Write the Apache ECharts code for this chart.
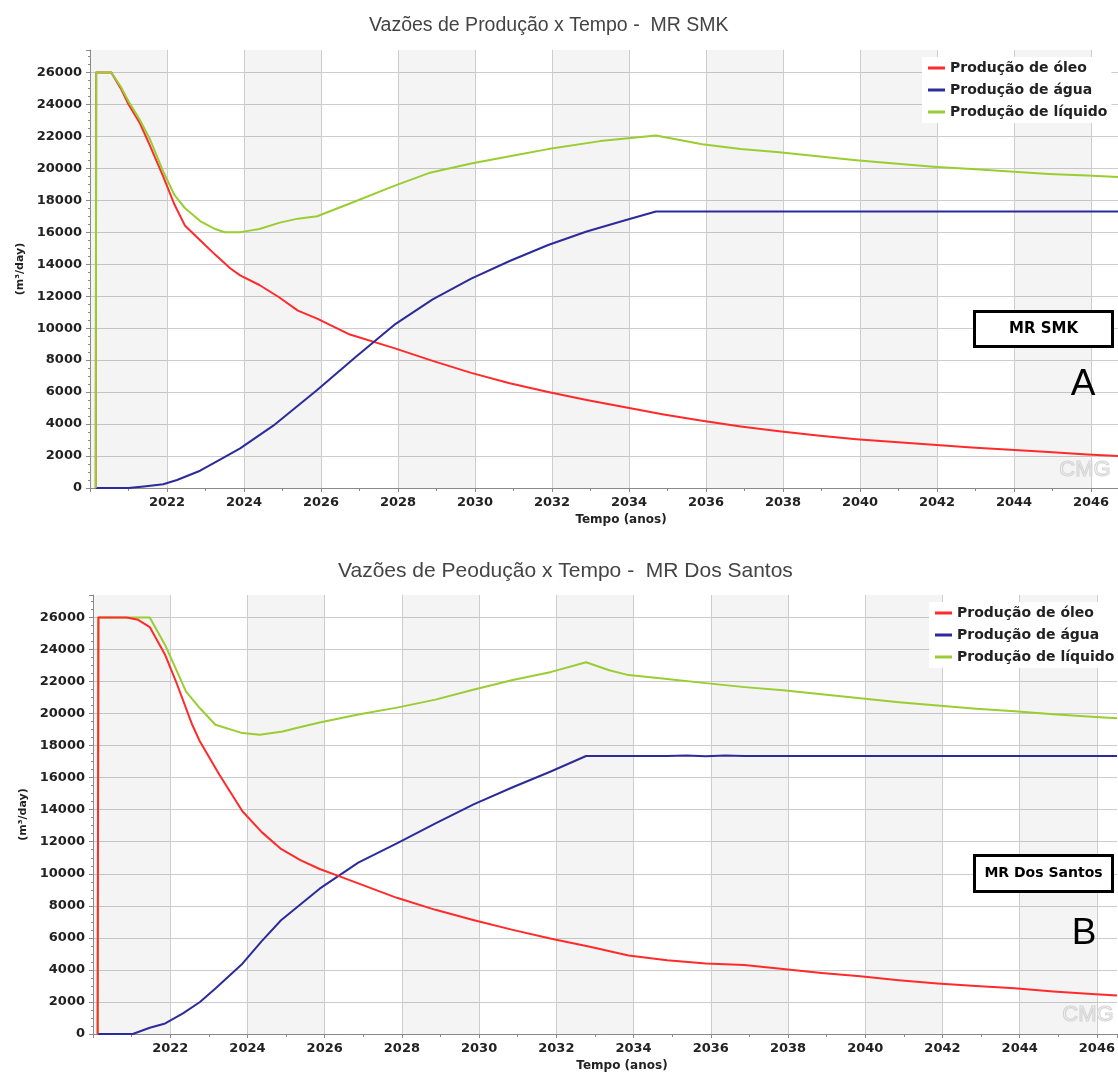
<!DOCTYPE html>
<html>
<head>
<meta charset="utf-8">
<script src="https://cdn.jsdelivr.net/npm/echarts@6/dist/echarts.min.js"></script>
<style>
  html, body { margin: 0; padding: 0; background: #fff; }
  #chart { width: 1118px; height: 1074px; }
</style>
</head>
<body>
<div id="chart"></div>
<script>
// ---- Series names ----
const seriesNames = ['Produção de óleo', 'Produção de água', 'Produção de líquido'];

// ---- MR SMK (panel A) ----
const smkOilYears = [2020.25, 2020.26, 2020.65, 2020.9, 2021.1, 2021.4, 2021.66, 2022.0, 2022.3, 2022.57, 2022.96, 2023.35, 2023.74, 2024.0, 2024.5, 2025.0, 2025.5, 2026.0, 2026.85, 2028, 2029, 2030, 2031, 2032, 2033, 2034, 2035, 2036, 2037, 2038, 2039, 2040, 2041, 2042, 2043, 2044, 2045, 2046, 2046.8];
const smkOil = [0, 26000, 26000, 25000, 24000, 22800, 21400, 19500, 17700, 16400, 15500, 14600, 13750, 13300, 12700, 11950, 11100, 10600, 9600, 8750, 7950, 7200, 6550, 6000, 5500, 5050, 4600, 4200, 3850, 3550, 3280, 3050, 2870, 2700, 2540, 2400, 2250, 2100, 2000];

const smkWaterYears = [2020.25, 2021.1, 2021.5, 2022.0, 2022.36, 2022.96, 2023.5, 2024.0, 2024.86, 2026.0, 2027.0, 2028.0, 2029.0, 2030.0, 2031.0, 2032.0, 2033.0, 2034.0, 2034.8, 2046.8];
const smkWater = [0, 0, 100, 230, 500, 1080, 1800, 2480, 3900, 6125, 8200, 10200, 11800, 13100, 14200, 15200, 16050, 16750, 17300, 17300];

const smkLiquidYears = [2020.25, 2020.26, 2020.65, 2020.9, 2021.1, 2021.4, 2021.66, 2022.0, 2022.3, 2022.57, 2022.96, 2023.35, 2023.6, 2024.0, 2024.25, 2024.5, 2025.03, 2025.5, 2026.0, 2026.85, 2028, 2028.9, 2030, 2031, 2032, 2033.35, 2034.8, 2036, 2037, 2038, 2039, 2040, 2041, 2042, 2043, 2044, 2045, 2046, 2046.8];
const smkLiquid = [0, 26000, 26000, 25100, 24200, 23000, 21800, 19800, 18300, 17500, 16700, 16200, 16000, 16000, 16100, 16200, 16600, 16850, 17000, 17800, 18900, 19700, 20300, 20750, 21200, 21700, 22050, 21500, 21200, 21000, 20750, 20500, 20300, 20100, 19950, 19800, 19650, 19550, 19450];

// ---- MR Dos Santos (panel B) ----
const dsOilYears = [2020.25, 2020.27, 2021.0, 2021.3, 2021.6, 2022.0, 2022.28, 2022.7, 2022.9, 2023.4, 2024.0, 2024.5, 2025.0, 2025.5, 2026.0, 2026.5, 2027.0, 2028.0, 2029.0, 2030.0, 2031.0, 2032.0, 2033.0, 2034.0, 2035.0, 2036.0, 2037.0, 2038.0, 2039, 2040.0, 2041, 2042.0, 2043, 2044.0, 2045, 2046.0, 2046.65];
const dsOil = [0, 26000, 26000, 25850, 25400, 23650, 22000, 19300, 18250, 16200, 13900, 12600, 11550, 10850, 10300, 9850, 9400, 8500, 7750, 7100, 6500, 5950, 5450, 4900, 4600, 4400, 4300, 4050, 3800, 3600, 3350, 3150, 3000, 2850, 2650, 2500, 2400];

const dsWaterYears = [2020.25, 2021.16, 2021.6, 2022.0, 2022.46, 2022.9, 2023.3, 2024.0, 2024.5, 2025.0, 2026.0, 2027.0, 2028.0, 2029.0, 2030.0, 2031.0, 2032.0, 2032.9, 2034.0, 2035.0, 2035.5, 2036.0, 2036.5, 2037.0, 2038, 2046.65];
const dsWater = [0, 0, 390, 660, 1290, 2000, 2840, 4390, 5800, 7100, 9070, 10700, 11900, 13150, 14350, 15400, 16400, 17350, 17350, 17350, 17380, 17330, 17380, 17350, 17350, 17350];

const dsLiquidYears = [2020.25, 2020.27, 2021.6, 2022.0, 2022.54, 2022.9, 2023.3, 2024.0, 2024.45, 2025.04, 2025.48, 2026.0, 2027.0, 2028.0, 2029.0, 2030.0, 2031.0, 2032.0, 2032.9, 2033.5, 2034.0, 2035, 2036.0, 2037, 2038.0, 2039, 2040.0, 2041, 2042.0, 2043, 2044.0, 2045, 2046.0, 2046.65];
const dsLiquid = [0, 26000, 26000, 24270, 21370, 20330, 19300, 18780, 18680, 18880, 19150, 19440, 19940, 20370, 20870, 21500, 22100, 22600, 23200, 22700, 22400, 22150, 21900, 21650, 21450, 21200, 20950, 20700, 20500, 20300, 20150, 19950, 19800, 19700];

// ---- Axis ranges ----
const smkYearRange = [2020.1, 2046.8];
const dsYearRange = [2020.13, 2046.65];
const rateMax = 27400;

const colors = ['#ff2a2a', '#2b2b9a', '#9acd32'];
const boldFont = 'DejaVu Sans';

function pairs(xs, ys) { return xs.map((x, i) => [x, ys[i]]); }

function xAxisFor(gridIndex, range) {
  return {
    type: 'value', gridIndex, min: range[0], max: range[1], interval: 2,
    name: 'Tempo (anos)', nameLocation: 'middle', nameGap: 26,
    nameTextStyle: { fontFamily: boldFont, fontWeight: 'bold', fontSize: 12, color: '#222', padding: [0, 0, 0, 34] },
    axisLine: { lineStyle: { color: '#8a8a8a' } },
    axisTick: { length: 4, lineStyle: { color: '#8a8a8a' } },
    minorTick: { show: true, splitNumber: 2, length: 3, lineStyle: { color: '#8a8a8a' } },
    axisLabel: {
      showMinLabel: false, showMaxLabel: false, margin: 8,
      fontFamily: boldFont, fontWeight: 'bold', fontSize: 13, color: '#222',
      formatter: v => String(Math.round(v))
    },
    splitLine: { show: true, showMinLine: false, showMaxLine: false, lineStyle: { color: '#cdcdcd' } },
    // alternating two-year bands, translucent so the horizontal grid shows through
    splitArea: { show: true, areaStyle: { color: ['rgba(0,0,0,0.045)', 'rgba(0,0,0,0)'] } }
  };
}

function yAxisFor(gridIndex) {
  return {
    type: 'value', gridIndex, min: 0, max: rateMax, interval: 2000,
    name: '(m³/day)', nameLocation: 'middle', nameGap: 62,
    nameTextStyle: { fontFamily: boldFont, fontWeight: 'bold', fontSize: 11, color: '#222' },
    axisLine: { show: true, lineStyle: { color: '#8a8a8a' } },
    axisTick: { show: true, length: 4, lineStyle: { color: '#8a8a8a' } },
    minorTick: { show: true, splitNumber: 4, length: 2, lineStyle: { color: '#8a8a8a' } },
    axisLabel: {
      showMaxLabel: false, margin: 8, fontFamily: boldFont, fontWeight: 'bold', fontSize: 13, color: '#222',
      formatter: v => String(v)
    },
    splitLine: { show: true, showMaxLine: false, lineStyle: { color: '#cdcdcd' } }
  };
}

function lineSeries(nameIdx, gridIdx, xs, ys, z) {
  return {
    name: seriesNames[nameIdx], type: 'line', xAxisIndex: gridIdx, yAxisIndex: gridIdx,
    data: pairs(xs, ys), showSymbol: false, symbol: 'none', z,
    color: colors[nameIdx], lineStyle: { width: 2, color: colors[nameIdx], join: 'round' }
  };
}

function legendAt(left, top) {
  return {
    left, top, orient: 'vertical', data: seriesNames,
    icon: 'rect', itemWidth: 17, itemHeight: 3, itemGap: 6,
    backgroundColor: '#ffffff', padding: [3, 4, 3, 6],
    textStyle: { fontFamily: boldFont, fontWeight: 'bold', fontSize: 14, lineHeight: 16, color: '#222' }
  };
}

function tagBox(x, y, w, h, text, fontSize) {
  return [
    { type: 'rect', z: 100, shape: { x, y, width: w, height: h }, style: { fill: '#fff', stroke: '#000', lineWidth: 3 } },
    { type: 'text', z: 101, x: x + w / 2, y: y + h / 2,
      style: { text, font: `bold ${fontSize}px "DejaVu Sans"`, fill: '#000', align: 'center', verticalAlign: 'middle', textAlign: 'center', textVerticalAlign: 'middle' } }
  ];
}

function bigLetter(x, y, text) {
  return { type: 'text', z: 101, x, y,
    style: { text, font: '37px "Liberation Sans"', fill: '#000', align: 'center', verticalAlign: 'middle', textAlign: 'center', textVerticalAlign: 'middle' } };
}

function watermark(x, y) {
  return { type: 'text', z: 50, x, y,
    style: { text: 'CMG', font: '22px "Liberation Sans"', fill: 'rgba(0,0,0,0)', stroke: '#d4d4d4', lineWidth: 1.2, align: 'center', verticalAlign: 'middle', textAlign: 'center', textVerticalAlign: 'middle' } };
}

const chart = echarts.init(document.getElementById('chart'), null, { renderer: 'canvas' });
chart.setOption({
  animation: false,
  backgroundColor: '#ffffff',
  title: [
    { text: 'Vazões de Produção x Tempo -  MR SMK', left: 364, top: 11,
      textStyle: { fontFamily: 'Liberation Sans', fontWeight: 'normal', fontSize: 19.5, color: '#444' } },
    { text: 'Vazões de Peodução x Tempo -  MR Dos Santos', left: 333, top: 556,
      textStyle: { fontFamily: 'Liberation Sans', fontWeight: 'normal', fontSize: 21, color: '#444' } }
  ],
  legend: [legendAt(922, 57), legendAt(929, 602)],
  grid: [
    { left: 90, top: 50, right: 0, height: 438 },
    { left: 93, top: 595, right: 0, height: 439 }
  ],
  xAxis: [xAxisFor(0, smkYearRange), xAxisFor(1, dsYearRange)],
  yAxis: [yAxisFor(0), yAxisFor(1)],
  series: [
    lineSeries(0, 0, smkOilYears, smkOil, 3),
    lineSeries(1, 0, smkWaterYears, smkWater, 4),
    lineSeries(2, 0, smkLiquidYears, smkLiquid, 5),
    lineSeries(0, 1, dsOilYears, dsOil, 5),
    lineSeries(1, 1, dsWaterYears, dsWater, 4),
    lineSeries(2, 1, dsLiquidYears, dsLiquid, 3)
  ],
  graphic: [
    ...tagBox(974.5, 311.5, 138, 35, 'MR SMK', 15),
    bigLetter(1083, 385, 'A'),
    watermark(1085, 470),
    ...tagBox(974.5, 855.5, 138, 36, 'MR Dos Santos', 14),
    bigLetter(1084, 934, 'B'),
    watermark(1088, 1015)
  ]
});
</script>
</body>
</html>
